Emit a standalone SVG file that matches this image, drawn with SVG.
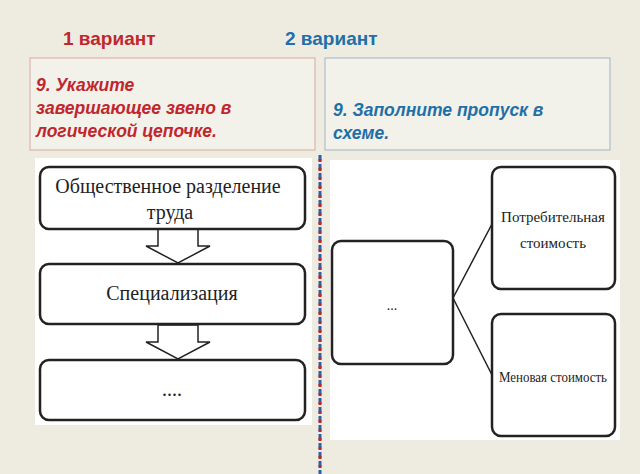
<svg xmlns="http://www.w3.org/2000/svg" width="640" height="474" viewBox="0 0 640 474">
<style>
.b{fill:#fff;stroke:#222;stroke-width:2.5}
.t{font-family:"Liberation Serif",serif;font-size:20px;fill:#222;text-anchor:middle}
.h{font-family:"Liberation Sans",sans-serif;font-weight:bold;font-size:19px}
.q{font-family:"Liberation Sans",sans-serif;font-weight:bold;font-style:italic;font-size:17.5px}
.c{fill:none;stroke:#222;stroke-width:1.5}
</style>
<rect width="640" height="474" fill="#eeece1"/>
<text class="h" x="63" y="45" fill="#c0272d">1 вариант</text>
<text class="h" x="285" y="45" fill="#1f6fa8">2 вариант</text>
<rect x="30" y="58" width="285" height="92" fill="#f2f1ea" stroke="#d9a9a0"/>
<rect x="325" y="58" width="285" height="92" fill="#f2f1ea" stroke="#9fb5c8"/>
<text class="q" fill="#c0272d"><tspan x="36" y="91">9. Укажите</tspan><tspan x="36" y="114">завершающее звено в</tspan><tspan x="36" y="137">логической цепочке.</tspan></text>
<text class="q" fill="#1f6fa8"><tspan x="333" y="116">9. Заполните пропуск в</tspan><tspan x="333" y="139">схеме.</tspan></text>
<rect x="35" y="158" width="277" height="267" fill="#fff"/>
<rect x="330" y="160" width="290" height="280" fill="#fff"/>
<line x1="320" y1="155" x2="320" y2="474" stroke="#2e5fa8" stroke-width="3" stroke-dasharray="6,3"/>
<line x1="320" y1="159" x2="320" y2="474" stroke="#c0272d" stroke-width="3" stroke-dasharray="3,6"/>
<g id="connectors">
<path class="c" d="M158 228h40v18h12l-32 17l-32-17h12z"/>
<path class="c" d="M158 325h40v17h12l-32 17l-32-17h12z"/>
<path class="c" d="M453 298L492 224M453 298L492 375"/>
</g>
<g id="n1"><rect class="b" x="40" y="167" width="265" height="62" rx="9"/><text class="t" x="168" y="193">Общественное разделение</text><text class="t" x="170" y="219">труда</text></g>
<g id="n2"><rect class="b" x="40" y="264" width="265" height="60" rx="9"/><text class="t" x="172" y="300">Специализация</text></g>
<g id="n3"><rect class="b" x="40" y="360" width="265" height="60" rx="9"/><text class="t" x="172" y="396">....</text></g>
<g id="n4"><rect class="b" x="332" y="241" width="121" height="123" rx="9"/><text class="t" x="392" y="310" style="font-size:14px">...</text></g>
<g id="n5"><rect class="b" x="492" y="167" width="123" height="122" rx="9"/><text class="t" x="553" y="222" style="font-size:15px">Потребительная</text><text class="t" x="553" y="248" style="font-size:15px">стоимость</text></g>
<g id="n6"><rect class="b" x="492" y="314" width="123" height="122" rx="9"/><text class="t" x="553" y="382" style="font-size:14px" textLength="108" lengthAdjust="spacingAndGlyphs">Меновая стоимость</text></g>
</svg>
